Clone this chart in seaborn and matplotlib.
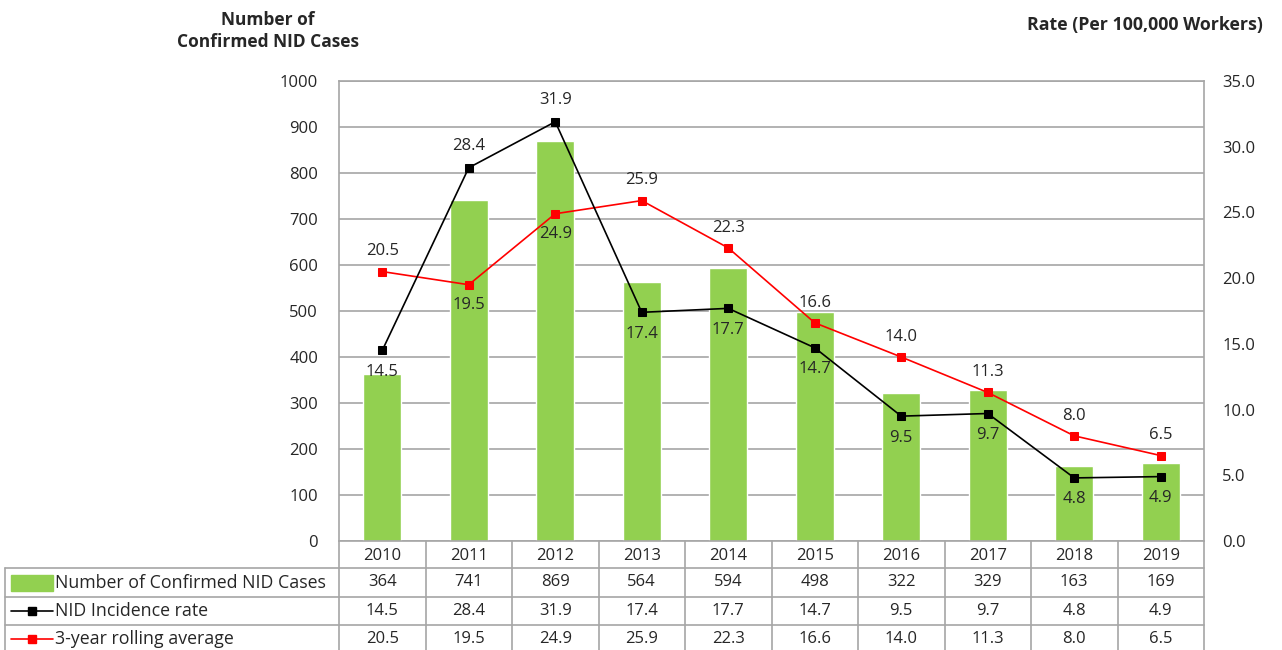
import numpy as np
import matplotlib
matplotlib.use("Agg")
import matplotlib.pyplot as plt
import matplotlib.patches as mpatches
import matplotlib.lines as mlines
import seaborn as sns

# data
years = ["2010", "2011", "2012", "2013", "2014", "2015", "2016", "2017", "2018", "2019"]
cases = [364, 741, 869, 564, 594, 498, 322, 329, 163, 169]
incidence = [14.5, 28.4, 31.9, 17.4, 17.7, 14.7, 9.5, 9.7, 4.8, 4.9]
rolling = [20.5, 19.5, 24.9, 25.9, 22.3, 16.6, 14.0, 11.3, 8.0, 6.5]
# where the value label sits: 1 above the point, -1 below
inc_pos = [-1, 1, 1, -1, -1, -1, -1, -1, -1, -1]
roll_pos = [1, -1, -1, 1, 1, 1, 1, 1, 1, 1]

row_names = ["Number of Confirmed NID Cases", "NID Incidence rate", "3-year rolling average"]

sns.set_style("white")
plt.rcParams['font.family'] = ['Open Sans', 'DejaVu Sans']

GREEN = "#92D050"
GRID = "#A6A6A6"
FS = 12

W, H = 1282, 650
fig = plt.figure(figsize=(W / 100, H / 100), dpi=100)

# main plot area (pixels)
L, R, T, B = 339, 1204, 81, 541
ax = fig.add_axes([L / W, 1 - B / H, (R - L) / W, (B - T) / H])
idx = np.arange(len(years))

sns.barplot(x=idx, y=cases, color=GREEN, width=0.44, saturation=1, ax=ax, zorder=2)
ax.set_ylim(0, 1000)
ax.set_xlim(-0.5, len(years) - 0.5)
ax.set_yticks(range(0, 1001, 100))
ax.yaxis.grid(True, color=GRID, linewidth=1.2, zorder=0)
ax.set_axisbelow(True)
ax.set_xticks([])
ax.set_xlabel("")
ax.set_ylabel("")
ax.tick_params(axis='y', length=0, labelsize=FS, pad=15)
for s in ax.spines.values():
    s.set_color(GRID)
    s.set_linewidth(1.2)

ax2 = ax.twinx()
sns.lineplot(x=idx, y=incidence, color="black", marker="s", markersize=6,
             markeredgecolor="black", linewidth=1.2, ax=ax2, zorder=4)
sns.lineplot(x=idx, y=rolling, color="#FF0000", marker="s", markersize=6,
             markeredgecolor="#FF0000", linewidth=1.2, ax=ax2, zorder=3)
ax2.set_ylim(0, 35)
ax2.set_yticks(np.arange(0, 35.1, 5))
ax2.set_yticklabels([f"{v:.1f}" for v in np.arange(0, 35.1, 5)])
ax2.tick_params(axis='y', length=0, labelsize=FS, pad=13)
ax2.set_ylabel("")
for s in ax2.spines.values():
    s.set_visible(False)

for i in idx:
    ax2.annotate(f"{incidence[i]:.1f}", (i, incidence[i]), textcoords="offset points",
                 xytext=(0, 15.5 * inc_pos[i]), ha="center", va="center", fontsize=FS)
    ax2.annotate(f"{rolling[i]:.1f}", (i, rolling[i]), textcoords="offset points",
                 xytext=(0, 14.5 * roll_pos[i]), ha="center", va="center", fontsize=FS)

fig.text(268 / W, 1 - 31 / H, "Number of\nConfirmed NID Cases", ha="center", va="center",
         fontsize=12.5, fontweight="bold", linespacing=1.3)
fig.text(1145 / W, 1 - 25 / H, "Rate (Per 100,000 Workers)", ha="center", va="center",
         fontsize=12.8, fontweight="bold")

# data table under the chart, y in pixel rows
x0 = 5
unit = (R - L) / len(years)
left_cat = -0.5 - (L - x0) / unit
tax = fig.add_axes([x0 / W, 0, (R - x0) / W, (H - B) / H])
tax.set_xlim(left_cat, len(years) - 0.5)
tax.set_ylim(H, B)
tax.axis("off")
row_y = [B, 568, 597, 625, 653]
edges = np.arange(len(years) + 1) - 0.5
kw = dict(color=GRID, linewidth=1.2, clip_on=False)
for e in edges:
    tax.plot([e, e], [row_y[0], H], **kw)
tax.plot([left_cat, left_cat], [row_y[1], H], **kw)
for r in row_y[1:4]:
    tax.plot([left_cat, len(years) - 0.5], [r, r], **kw)

for i, y in enumerate(years):
    tax.text(i, (row_y[0] + row_y[1]) / 2 + 1, y, ha="center", va="center", fontsize=FS)
table_vals = [[str(v) for v in cases],
              [f"{v:.1f}" for v in incidence],
              [f"{v:.1f}" for v in rolling]]
for r, vals in enumerate(table_vals):
    yc = (row_y[r + 1] + row_y[r + 2]) / 2
    for i, v in enumerate(vals):
        tax.text(i, yc, v, ha="center", va="center", fontsize=FS)

# legend keys inside the row labels
px = 1 / unit
kx0 = left_cat + 6 * px
kx1 = left_cat + 48 * px
y1 = (row_y[1] + row_y[2]) / 2
tax.add_patch(mpatches.Rectangle((kx0, y1 - 8), kx1 - kx0, 16, color=GREEN, clip_on=False))
for r, col in [(1, "black"), (2, "#FF0000")]:
    yc = (row_y[r + 1] + row_y[r + 2]) / 2
    tax.add_line(mlines.Line2D([kx0, kx1], [yc, yc], color=col, linewidth=1.2, clip_on=False))
    tax.add_line(mlines.Line2D([(kx0 + kx1) / 2], [yc], color=col, marker="s", markersize=6,
                               clip_on=False))
for r, name in enumerate(row_names):
    yc = (row_y[r + 1] + row_y[r + 2]) / 2
    tax.text(kx1 + 2 * px, yc, name, ha="left", va="center", fontsize=12.8)

fig.savefig("out.png", dpi=100)
